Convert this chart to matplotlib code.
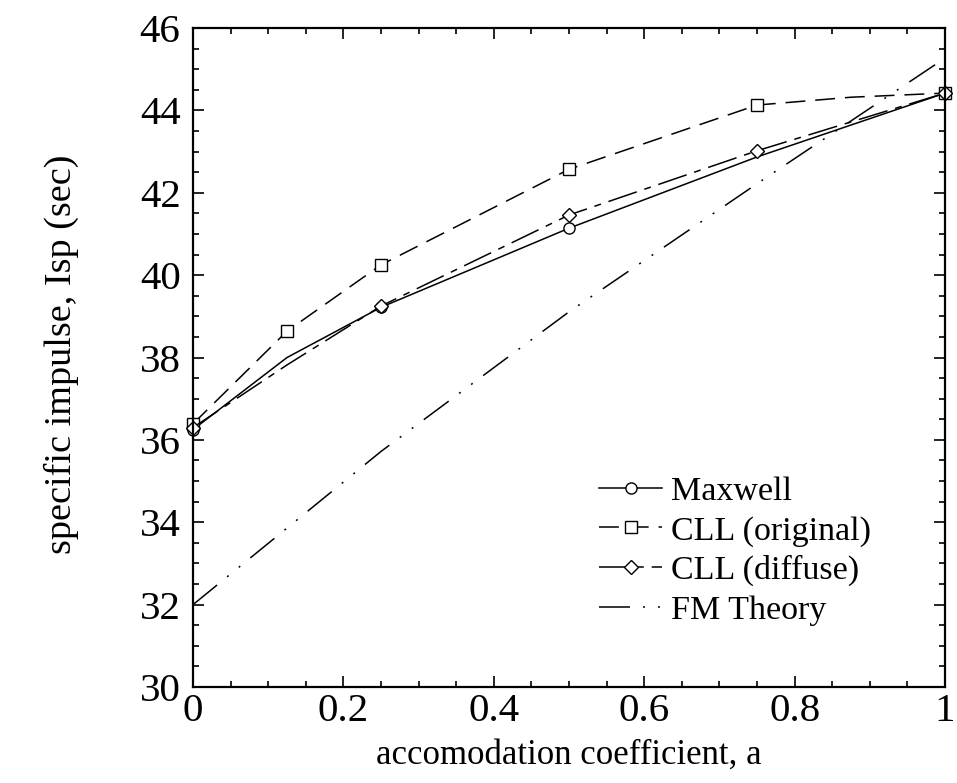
import matplotlib
matplotlib.use("Agg")
import matplotlib.pyplot as plt
from matplotlib.ticker import MultipleLocator

# ---------------- data ----------------
maxwell_a = [0.0, 0.125, 0.25, 0.5, 0.75, 1.0]
maxwell_isp = [36.25, 38.0, 39.22, 41.14, 42.87, 44.42]
maxwell_marks = [0, 2, 3, 5]

cll_orig_a = [0.0, 0.125, 0.25, 0.5, 0.75, 0.875, 1.0]
cll_orig_isp = [36.39, 38.64, 40.25, 42.57, 44.13, 44.32, 44.42]
cll_orig_marks = [0, 1, 2, 3, 4, 6]

cll_diff_a = [0.0, 0.125, 0.25, 0.5, 0.75, 1.0]
cll_diff_isp = [36.3, 37.82, 39.25, 41.46, 43.02, 44.42]
cll_diff_marks = [0, 2, 3, 4, 5]

fm_a = [0.0, 0.25, 0.5, 0.75, 1.0]
fm_isp = [32.0, 35.72, 39.11, 42.22, 45.27]

labels = ["Maxwell", "CLL (original)", "CLL (diffuse)", "FM Theory"]
x_ticks = [0, 0.2, 0.4, 0.6, 0.8, 1]
x_ticklabels = ["0", "0.2", "0.4", "0.6", "0.8", "1"]
y_ticks = [30, 32, 34, 36, 38, 40, 42, 44, 46]

# ---------------- figure ----------------
plt.rcParams["font.family"] = ["Liberation Serif", "DejaVu Serif"]
fig = plt.figure(figsize=(9.57, 7.83), dpi=100)
ax = fig.add_axes([0.2017, 0.1226, 0.7858, 0.8416])

lw = 1.1
mk = dict(markerfacecolor="white", markeredgecolor="black", markeredgewidth=1.0, clip_on=False)

ax.plot(maxwell_a, maxwell_isp, color="black", lw=lw, ls="-",
        marker="o", ms=8, markevery=maxwell_marks, label=labels[0], **mk)
ax.plot(cll_orig_a, cll_orig_isp, color="black", lw=lw, ls=(0, (13, 6.5)),
        marker="s", ms=9, markevery=cll_orig_marks, label=labels[1], **mk)
ax.plot(cll_diff_a, cll_diff_isp, color="black", lw=lw, ls=(0, (19.6, 5.2, 4.5, 5.2)),
        marker="D", ms=7, markevery=cll_diff_marks, label=labels[2], **mk)
ax.plot(fm_a, fm_isp, color="black", lw=lw, ls=(0, (20.3, 8.5, 1.3, 8.5, 1.3, 8.5)),
        label=labels[3])

ax.set_xlim(0, 1)
ax.set_ylim(30, 46)
ax.set_xticks(x_ticks)
ax.set_xticklabels(x_ticklabels)
ax.set_yticks(y_ticks)
ax.xaxis.set_minor_locator(MultipleLocator(0.05))
ax.yaxis.set_minor_locator(MultipleLocator(0.5))

ax.tick_params(which="both", direction="in", top=True, right=True, width=1.2, colors="black")
ax.tick_params(which="major", length=8)
ax.tick_params(which="minor", length=4.5)
ax.tick_params(axis="x", which="major", labelsize=29.5, pad=4)
ax.tick_params(axis="y", which="major", labelsize=29.5, pad=9)
for s in ax.spines.values():
    s.set_linewidth(1.6)

ax.set_xlabel("accomodation coefficient, a", fontsize=25)
ax.set_ylabel("specific impulse, Isp (sec)", fontsize=27.5)
ax.xaxis.set_label_coords(0.5, -0.078, transform=ax.transAxes)
ax.yaxis.set_label_coords(-0.152, 0.505, transform=ax.transAxes)

leg = ax.legend(loc="upper left", bbox_to_anchor=(0.54, 0.32), frameon=False,
                fontsize=24.5, handlelength=1.85, handletextpad=0.25, labelspacing=0.25,
                borderpad=0, borderaxespad=0, numpoints=1)

fig.savefig("out.png", dpi=100)
